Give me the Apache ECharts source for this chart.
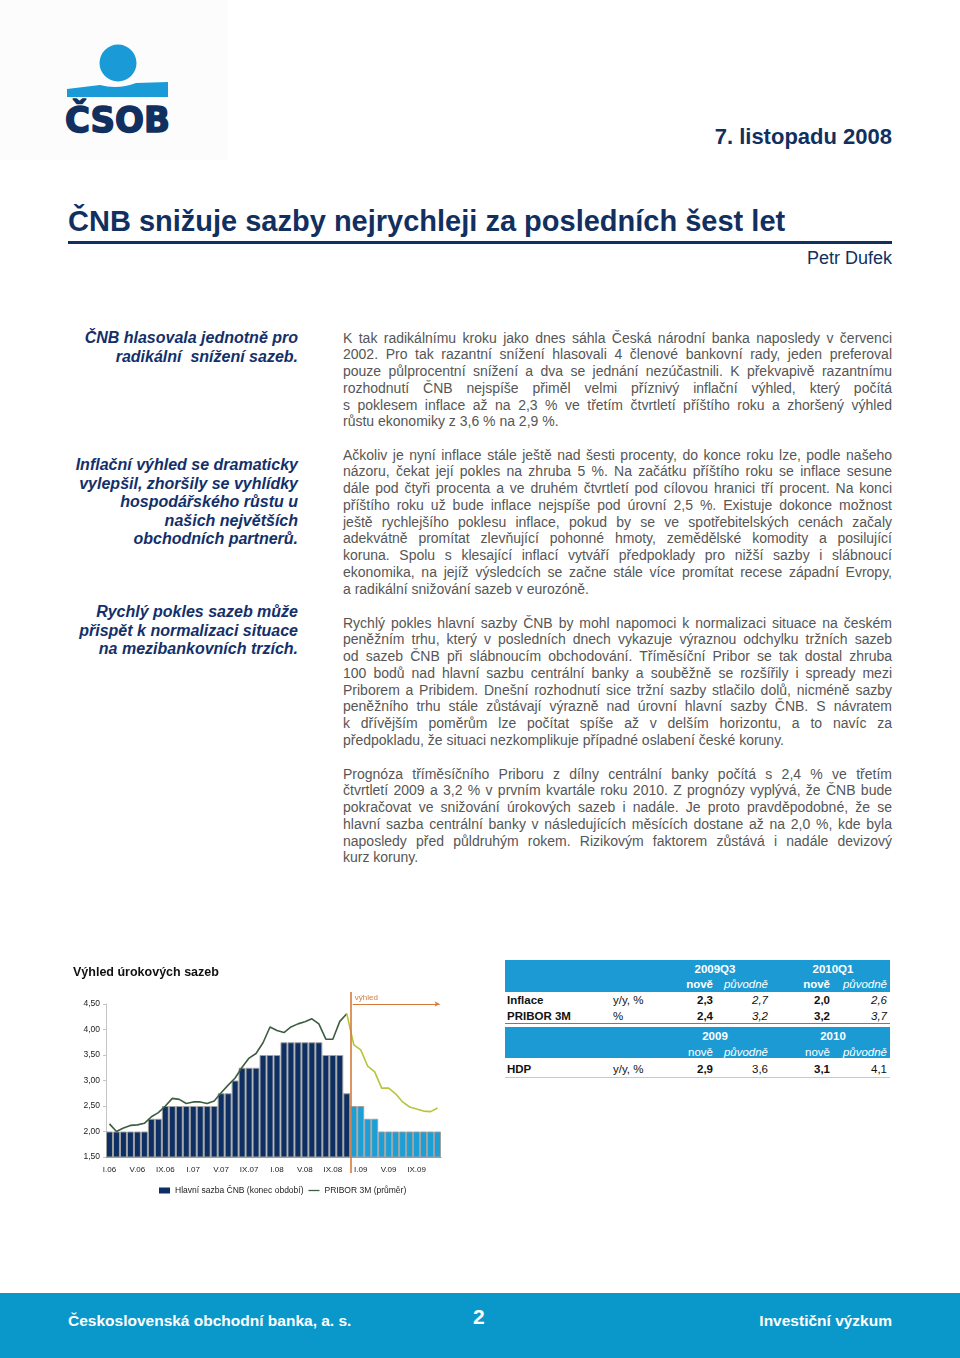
<!DOCTYPE html>
<html lang="cs">
<head>
<meta charset="utf-8">
<script src="https://cdn.jsdelivr.net/npm/echarts@6/dist/echarts.min.js"></script>
<style>
  html, body { margin:0; padding:0; background:#fff; }
  body { width:960px; height:1358px; position:relative; overflow:hidden; font-family:"Liberation Sans", Arial, sans-serif; }
  .abs { position:absolute; white-space:nowrap; }
  .date { right:68px; top:124px; font-size:22px; font-weight:bold; color:#12305f; line-height:26px; }
  .title { left:68px; top:204px; font-size:29px; font-weight:bold; color:#12305f; line-height:34px; }
  .rule { left:68px; top:241px; width:824px; height:3px; background:#12305f; }
  .author { right:68px; top:247px; font-size:18px; color:#12305f; line-height:22px; }
  .note { position:absolute; right:662px; text-align:right; font-size:16px; font-weight:bold; font-style:italic; color:#13306a; line-height:18.6px; white-space:nowrap; }
  .para { position:absolute; left:343px; width:549px; font-size:14px; color:#565656; line-height:16.75px; }
  .para div { white-space:nowrap; text-align:justify; text-align-last:justify; }
  .para div.l { text-align-last:left; }
  .tb { position:absolute; font-size:11.5px; line-height:14px; white-space:nowrap; color:#111; }
  .hdr { position:absolute; background:#1b9ad4; }
  .w { color:#fff; }
  .b { font-weight:bold; }
  .i { font-style:italic; }
  .footer { position:absolute; left:0; top:1293px; width:960px; height:65px; background:#0a98ca; }
  .ft { position:absolute; color:#fff; font-weight:bold; white-space:nowrap; }
  #chart { position:absolute; left:60px; top:955px; width:400px; height:250px; }
</style>
</head>
<body>
<!-- logo -->
<div class="abs" style="left:0;top:0;width:228px;height:160px;background:#fcfcfc;"></div>
<svg class="abs" style="left:0;top:0" width="228" height="160" viewBox="0 0 228 160">
  <circle cx="118" cy="63" r="18.5" fill="#1a9ad6"/>
  <path d="M67 89 L100 85 Q118 90 136 83 L168 82 L168 97 L67 97 Z" fill="#1a9ad6"/>
  <text x="65" y="132" font-family="DejaVu Sans, Liberation Sans" font-weight="bold" font-size="36" fill="#12305f" stroke="#12305f" stroke-width="1.6" stroke-linejoin="round" textLength="105" lengthAdjust="spacingAndGlyphs">ČSOB</text>
</svg>

<div class="abs date">7. listopadu 2008</div>
<div class="abs title">ČNB snižuje sazby nejrychleji za posledních šest let</div>
<div class="abs rule"></div>
<div class="abs author">Petr Dufek</div>

<div class="note" style="top:329px;">ČNB hlasovala jednotně pro<br>radikální&nbsp; snížení sazeb.</div>
<div class="note" style="top:456px;">Inflační výhled se dramaticky<br>vylepšil, zhoršily se vyhlídky<br>hospodářského růstu u<br>našich největších<br>obchodních partnerů.</div>
<div class="note" style="top:603px;">Rychlý pokles sazeb může<br>přispět k normalizaci situace<br>na mezibankovních trzích.</div>

<div class="para" style="top:329.6px;">
<div>K tak radikálnímu kroku jako dnes sáhla Česká národní banka naposledy v červenci</div>
<div>2002. Pro tak razantní snížení hlasovali 4 členové bankovní rady, jeden preferoval</div>
<div>pouze půlprocentní snížení a dva se jednání nezúčastnili. K překvapivě razantnímu</div>
<div>rozhodnutí ČNB nejspíše přiměl velmi příznivý inflační výhled, který počítá</div>
<div>s poklesem inflace až na 2,3 % ve třetím čtvrtletí příštího roku a zhoršený výhled</div>
<div class="l">růstu ekonomiky z 3,6 % na 2,9 %.</div>
</div>
<div class="para" style="top:446.6px;">
<div>Ačkoliv je nyní inflace stále ještě nad šesti procenty, do konce roku lze, podle našeho</div>
<div>názoru, čekat její pokles na zhruba 5 %. Na začátku příštího roku se inflace sesune</div>
<div>dále pod čtyři procenta a ve druhém čtvrtletí pod cílovou hranici tří procent. Na konci</div>
<div>příštího roku už bude inflace nejspíše pod úrovní 2,5 %. Existuje dokonce možnost</div>
<div>ještě rychlejšího poklesu inflace, pokud by se ve spotřebitelských cenách začaly</div>
<div>adekvátně promítat zlevňující pohonné hmoty, zemědělské komodity a posilující</div>
<div>koruna. Spolu s klesající inflací vytváří předpoklady pro nižší sazby i slábnoucí</div>
<div>ekonomika, na jejíž výsledcích se začne stále více promítat recese západní Evropy,</div>
<div class="l">a radikální snižování sazeb v eurozóně.</div>
</div>
<div class="para" style="top:614.6px;">
<div>Rychlý pokles hlavní sazby ČNB by mohl napomoci k normalizaci situace na českém</div>
<div>peněžním trhu, který v posledních dnech vykazuje výraznou odchylku tržních sazeb</div>
<div>od sazeb ČNB při slábnoucím obchodování. Tříměsíční Pribor se tak dostal zhruba</div>
<div>100 bodů nad hlavní sazbu centrální banky a souběžně se rozšířily i spready mezi</div>
<div>Priborem a Pribidem. Dnešní rozhodnutí sice tržní sazby stlačilo dolů, nicméně sazby</div>
<div>peněžního trhu stále zůstávají výrazně nad úrovní hlavní sazby ČNB. S návratem</div>
<div>k dřívějším poměrům lze počítat spíše až v delším horizontu, a to navíc za</div>
<div class="l">předpokladu, že situaci nezkomplikuje případné oslabení české koruny.</div>
</div>
<div class="para" style="top:765.6px;">
<div>Prognóza tříměsíčního Priboru z dílny centrální banky počítá s 2,4 % ve třetím</div>
<div>čtvrtletí 2009 a 3,2 % v prvním kvartále roku 2010. Z prognózy vyplývá, že ČNB bude</div>
<div>pokračovat ve snižování úrokových sazeb i nadále. Je proto pravděpodobné, že se</div>
<div>hlavní sazba centrální banky v následujících měsících dostane až na 2,0 %, kde byla</div>
<div>naposledy před půldruhým rokem. Rizikovým faktorem zůstává i nadále devizový</div>
<div class="l">kurz koruny.</div>
</div>

<!-- table -->
<div class="hdr" style="left:505px;top:960px;width:385px;height:32px;"></div>
<div class="tb w b" style="left:665px;width:100px;text-align:center;top:962px;">2009Q3</div>
<div class="tb w b" style="left:783px;width:100px;text-align:center;top:962px;">2010Q1</div>
<div class="tb w b" style="right:247px;top:977px;">nově</div>
<div class="tb w i" style="right:192px;top:977px;">původně</div>
<div class="tb w b" style="right:130px;top:977px;">nově</div>
<div class="tb w i" style="right:73px;top:977px;">původně</div>

<div class="tb b" style="left:507px;top:993px;">Inflace</div>
<div class="tb" style="left:613px;top:993px;">y/y, %</div>
<div class="tb b" style="right:247px;top:993px;">2,3</div>
<div class="tb i" style="right:192px;top:993px;">2,7</div>
<div class="tb b" style="right:130px;top:993px;">2,0</div>
<div class="tb i" style="right:73px;top:993px;">2,6</div>

<div class="tb b" style="left:507px;top:1009px;">PRIBOR 3M</div>
<div class="tb" style="left:613px;top:1009px;">%</div>
<div class="tb b" style="right:247px;top:1009px;">2,4</div>
<div class="tb i" style="right:192px;top:1009px;">3,2</div>
<div class="tb b" style="right:130px;top:1009px;">3,2</div>
<div class="tb i" style="right:73px;top:1009px;">3,7</div>

<div class="abs" style="left:505px;top:1023px;width:385px;height:1px;background:#7a7a7a;"></div>
<div class="hdr" style="left:505px;top:1027px;width:385px;height:31px;"></div>
<div class="tb w b" style="left:665px;width:100px;text-align:center;top:1029px;">2009</div>
<div class="tb w b" style="left:783px;width:100px;text-align:center;top:1029px;">2010</div>
<div class="tb w" style="right:247px;top:1045px;">nově</div>
<div class="tb w i" style="right:192px;top:1045px;">původně</div>
<div class="tb w" style="right:130px;top:1045px;">nově</div>
<div class="tb w i" style="right:73px;top:1045px;">původně</div>

<div class="tb b" style="left:507px;top:1062px;">HDP</div>
<div class="tb" style="left:613px;top:1062px;">y/y, %</div>
<div class="tb b" style="right:247px;top:1062px;">2,9</div>
<div class="tb" style="right:192px;top:1062px;">3,6</div>
<div class="tb b" style="right:130px;top:1062px;">3,1</div>
<div class="tb" style="right:73px;top:1062px;">4,1</div>
<div class="abs" style="left:505px;top:1077px;width:385px;height:1px;background:#c8c8c8;"></div>

<div id="chart"></div>

<div class="footer"></div>
<div class="ft" style="left:68px;top:1312px;font-size:15.5px;">Československá obchodní banka, a. s.</div>
<div class="ft" style="left:473px;top:1305px;font-size:21px;">2</div>
<div class="ft" style="right:68px;top:1312px;font-size:15.5px;">Investiční výzkum</div>

<script>
// ---- data ----
const categories = [
  'I.06','II.06','III.06','IV.06','V.06','VI.06','VII.06','VIII.06','IX.06','X.06','XI.06','XII.06',
  'I.07','II.07','III.07','IV.07','V.07','VI.07','VII.07','VIII.07','IX.07','X.07','XI.07','XII.07',
  'I.08','II.08','III.08','IV.08','V.08','VI.08','VII.08','VIII.08','IX.08','X.08','XI.08','XII.08',
  'I.09','II.09','III.09','IV.09','V.09','VI.09','VII.09','VIII.09','IX.09','X.09','XI.09','XII.09'
];
// Hlavní sazba ČNB (konec období) – skutečnost I.06–XI.08
const rateHistory = [
  2.00,2.00,2.00,2.00,2.00,2.00,2.25,2.25,2.50,2.50,2.50,2.50,
  2.50,2.50,2.50,2.50,2.75,2.75,3.00,3.25,3.25,3.25,3.50,3.50,
  3.50,3.75,3.75,3.75,3.75,3.75,3.75,3.50,3.50,3.50,2.75
];
// Hlavní sazba ČNB – výhled XII.08–XII.09
const rateForecast = [2.50,2.50,2.25,2.25,2.00,2.00,2.00,2.00,2.00,2.00,2.00,2.00,2.00];
// PRIBOR 3M (průměr) – skutečnost
const priborHistory = [
  2.15,2.00,2.07,2.12,2.13,2.16,2.29,2.37,2.50,2.65,2.63,2.55,
  2.58,2.58,2.55,2.60,2.76,2.91,3.05,3.26,3.44,3.53,3.74,4.05,
  3.98,3.94,4.05,4.11,4.15,4.21,4.11,3.81,3.81,4.16,4.31
];
// PRIBOR 3M – výhled
const priborForecast = [3.70,3.60,3.28,3.17,2.85,2.85,2.74,2.58,2.48,2.44,2.40,2.39,2.46];
const outlookLabel = 'výhled';

// ---- build ----
const H = rateHistory.length;
const histBars = categories.map((c, i) => i < H ? rateHistory[i] : null);
const fcBars = categories.map((c, i) => i >= H ? rateForecast[i - H] : null);
const priborHistData = categories.map((c, i) => i < H ? priborHistory[i] : null);
const priborFcData = categories.map((c, i) => i === H - 1 ? priborHistory[H - 1] : (i >= H ? priborForecast[i - H] : null));
const boundary = H - 0.5;
const last = categories.length - 1;

const ORANGE = '#d67a3a';
const chart = echarts.init(document.getElementById('chart'), null, { renderer: 'canvas' });
chart.setOption({
  animation: false,
  textStyle: { fontFamily: 'Liberation Sans, Arial, sans-serif' },
  title: {
    text: 'Výhled úrokových sazeb', left: 13, top: 11, padding: 0,
    textStyle: { fontSize: 12.5, fontWeight: 'bold', color: '#111' }
  },
  grid: [
    { left: 46, top: 49, width: 335, height: 153 },
    { left: 46, top: 37, width: 335, height: 181 }
  ],
  xAxis: [
    {
      type: 'category', data: categories, gridIndex: 0,
      axisLine: { lineStyle: { color: '#9a9a9a', width: 1 } },
      axisTick: { show: false },
      axisLabel: { interval: 3, fontSize: 8, color: '#222', margin: 9 }
    },
    { type: 'value', gridIndex: 1, min: -0.5, max: last + 0.5, show: false }
  ],
  yAxis: [
    {
      type: 'value', gridIndex: 0, min: 1.5, max: 4.5, interval: 0.5,
      axisLine: { show: true, lineStyle: { color: '#c4c4c4' } },
      axisTick: { show: true, length: 3, lineStyle: { color: '#c4c4c4' } },
      splitLine: { show: false },
      axisLabel: { fontSize: 8.5, color: '#222', margin: 6, formatter: v => v.toFixed(2).replace('.', ',') }
    },
    { type: 'value', gridIndex: 1, min: 1.186, max: 4.735, show: false }
  ],
  legend: {
    left: 99, top: 231, itemWidth: 11, itemHeight: 6, itemGap: 5, padding: 0,
    itemStyle: { borderWidth: 0 },
    textStyle: { fontSize: 8.5, color: '#222' },
    data: [
      { name: 'Hlavní sazba ČNB (konec období)', icon: 'rect' },
      { name: 'PRIBOR 3M (průměr)', icon: 'path://M0,0 L12,0 L12,1.4 L0,1.4 Z' }
    ]
  },
  series: [
    {
      name: 'Hlavní sazba ČNB (konec období)', type: 'bar', stack: 'rate',
      data: histBars, barCategoryGap: 0, barWidth: '100%',
      itemStyle: { color: '#0d2f63', borderColor: '#a0a0a0', borderWidth: 1 }
    },
    {
      name: 'Hlavní sazba ČNB – výhled', type: 'bar', stack: 'rate',
      data: fcBars, barCategoryGap: 0, barWidth: '100%',
      itemStyle: { color: '#1a9fd6', borderColor: '#a0a0a0', borderWidth: 1 }
    },
    {
      name: 'PRIBOR 3M (průměr)', type: 'line', data: priborHistData,
      symbol: 'none', lineStyle: { color: '#3c5d40', width: 1.6 }, itemStyle: { color: '#3c5d40' }
    },
    {
      name: 'PRIBOR 3M – výhled', type: 'line', data: priborFcData,
      symbol: 'none', lineStyle: { color: '#b8c43c', width: 1.6 }, itemStyle: { color: '#b8c43c' }
    },
    {
      name: 'annotation', type: 'line', xAxisIndex: 1, yAxisIndex: 1, data: [],
      markLine: {
        silent: true, animation: false,
        symbol: 'none',
        data: [
          [
            { coord: [boundary, 1.186], lineStyle: { color: ORANGE, width: 1.6, type: 'solid' }, label: { show: false } },
            { coord: [boundary, 4.735] }
          ],
          [
            { coord: [boundary + 0.35, 4.5], symbol: 'none',
              lineStyle: { color: ORANGE, width: 1, type: 'solid' },
              label: { show: true, formatter: outlookLabel, position: 'insideStartTop', color: ORANGE, fontSize: 8, distance: 2 } },
            { coord: [last + 0.3, 4.5], symbol: 'arrow', symbolSize: [4, 5] }
          ]
        ]
      }
    }
  ]
});
</script>
</body>
</html>
